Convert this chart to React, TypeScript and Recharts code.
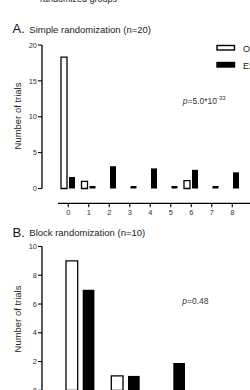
import React from 'react';
import { BarChart, Bar, XAxis, YAxis, Legend, Label } from 'recharts';

// ---- Panel A: Simple randomization (n=20) ----
const categoriesA = ['0', '1', '2', '3', '4', '5', '6', '7', '8'];
const originalA = [18.3, 1, 0, 0, 0, 0, 1.1, 0, 0];
const extensionA = [1.6, 0, 3.1, 0, 2.8, 0, 2.6, 0, 2.25];
const yTicksA = [0, 5, 10, 15, 20];

// ---- Panel B: Block randomization (n=10) ----
const categoriesB = ['0', '1', '2', '3'];
const originalB = [9, 1, 0, 0];
const extensionB = [7, 1, 1.9, 0];
const yTicksB = [0, 2, 4, 6, 8, 10];

const seriesNames = ['Original', 'Extension'];
const yLabel = 'Number of trials';
const titleA = 'Simple randomization (n=20)';
const titleB = 'Block randomization (n=10)';
const headerText = 'randomized groups';

const dataA = categoriesA.map((c, i) => ({ cat: c, original: originalA[i], extension: extensionA[i] }));
const dataB = categoriesB.map((c, i) => ({ cat: c, original: originalB[i], extension: extensionB[i] }));

const FONT = '"Liberation Sans", Arial, Helvetica, sans-serif';

const makeYLabel = (offsetY: number) => (props: any) => {
  const vb = props.viewBox || { x: 0, y: 0 };
  const x = vb.x + 20.7;
  const y = vb.y + offsetY;
  return (
    <text
      x={x}
      y={y}
      transform={`rotate(-90, ${x}, ${y})`}
      textAnchor="middle"
      fontSize={9.5}
      fontFamily={FONT}
      fill="#222"
    >
      {yLabel}
    </text>
  );
};

const LegendContent = () => {
  return (
    <svg width={70} height={30} style={{ overflow: 'visible' }}>
      {seriesNames.map((name, i) => (
        <g key={name}>
          <rect
            x={2}
            y={2.5 + i * 17}
            width={17.5}
            height={4.5}
            fill={i === 0 ? '#fff' : '#000'}
            stroke="#000"
            strokeWidth={1.4}
          />
          <text x={28} y={8.5 + i * 17} fontSize={9} fontFamily={FONT} fill="#222">
            {name}
          </text>
        </g>
      ))}
    </svg>
  );
};

const axisTick = { fontSize: 7.5, fill: '#333', fontFamily: FONT };

export default function App() {
  return (
    <div
      style={{
        position: 'absolute',
        left: 0,
        top: 0,
        width: 250,
        height: 390,
        overflow: 'hidden',
        background: '#fff',
        fontFamily: FONT,
      }}
    >
      {/* Panel A */}
      <div style={{ position: 'absolute', left: 0, top: 0 }}>
        <BarChart
          width={283.5}
          height={225.3}
          data={dataA}
          margin={{ top: 45, right: 0, bottom: 0, left: 0 }}
          barSize={6}
          barGap={2}
        >
          <XAxis
            dataKey="cat"
            interval={0}
            height={22}
            padding={{ left: 16, right: 41 }}
            axisLine={{ stroke: '#000', strokeWidth: 1.3, strokeDasharray: '0 16 1000' }}
            tickLine={{ stroke: '#000', strokeWidth: 1.1 }}
            tickSize={4}
            tick={axisTick}
          />
          <YAxis
            domain={[0, 20]}
            ticks={yTicksA}
            interval={0}
            width={42}
            padding={{ top: 0, bottom: 14.8 }}
            axisLine={{ stroke: '#000', strokeWidth: 1.3, strokeDasharray: '143.5 400' }}
            tickLine={{ stroke: '#000', strokeWidth: 1.1 }}
            tickSize={4}
            tickMargin={1}
            tick={axisTick}
          >
            <Label content={makeYLabel(71)} />
          </YAxis>
          <Legend
            layout="horizontal"
            verticalAlign="middle"
            align="center"
            wrapperStyle={{ position: 'absolute', left: 215, top: 43, width: 80, height: 30 }}
            content={LegendContent}
          />
          <Bar
            dataKey="original"
            name={seriesNames[0]}
            fill="#fff"
            stroke="#000"
            strokeWidth={1.3}
            isAnimationActive={false}
          />
          <Bar
            dataKey="extension"
            name={seriesNames[1]}
            fill="#000"
            minPointSize={2.5}
            isAnimationActive={false}
          />
        </BarChart>
      </div>

      {/* Panel B */}
      <div style={{ position: 'absolute', left: 0, top: 200 }}>
        <BarChart
          width={284.5}
          height={226.3}
          data={dataB}
          margin={{ top: 46.5, right: 0, bottom: 0, left: 0 }}
          barSize={11.7}
          barGap={5}
        >
          <XAxis
            dataKey="cat"
            interval={0}
            height={22}
            padding={{ left: 16, right: 45.3 }}
            axisLine={{ stroke: '#000', strokeWidth: 1.3, strokeDasharray: '0 16 1000' }}
            tickLine={{ stroke: '#000', strokeWidth: 1.1 }}
            tickSize={4}
            tick={axisTick}
          />
          <YAxis
            domain={[0, 10]}
            ticks={yTicksB}
            interval={0}
            width={42}
            padding={{ top: 0, bottom: 14 }}
            axisLine={{ stroke: '#000', strokeWidth: 1.3, strokeDasharray: '143.8 400' }}
            tickLine={{ stroke: '#000', strokeWidth: 1.1 }}
            tickSize={4}
            tickMargin={1}
            tick={axisTick}
          >
            <Label content={makeYLabel(72.5)} />
          </YAxis>
          <Bar
            dataKey="original"
            name={seriesNames[0]}
            fill="#fff"
            stroke="#000"
            strokeWidth={1.3}
            isAnimationActive={false}
          />
          <Bar
            dataKey="extension"
            name={seriesNames[1]}
            fill="#000"
            isAnimationActive={false}
          />
        </BarChart>
      </div>

      {/* Titles and annotations */}
      <svg
        width={250}
        height={390}
        style={{ position: 'absolute', left: 0, top: 0, pointerEvents: 'none' }}
      >
        <text x={40} y={1.5} fontSize={9} fontFamily={FONT} fill="#222">
          {headerText}
        </text>
        <text x={12.5} y={33.3} fontSize={13} fontFamily={FONT} fill="#111">
          A.
        </text>
        <text x={29.3} y={33} fontSize={9.5} fontFamily={FONT} fill="#222">
          {titleA}
        </text>
        <text x={12.5} y={236.5} fontSize={13} fontFamily={FONT} fill="#111">
          B.
        </text>
        <text x={29.3} y={236.3} fontSize={9.5} fontFamily={FONT} fill="#222">
          {titleB}
        </text>
        <text x={182.7} y={104} fontSize={8.5} fontFamily={FONT} fill="#333">
          <tspan fontStyle="italic">p</tspan>
          <tspan>=5.0*10</tspan>
          <tspan fontSize={6} dy={-4}>-33</tspan>
        </text>
        <text x={182.3} y={303.5} fontSize={8.5} fontFamily={FONT} fill="#333">
          <tspan fontStyle="italic">p</tspan>
          <tspan>=0.48</tspan>
        </text>
      </svg>
    </div>
  );
}
